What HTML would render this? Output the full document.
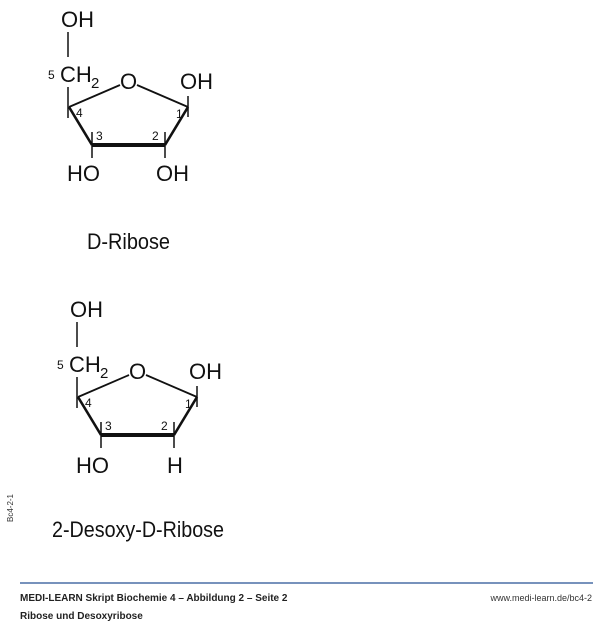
<!DOCTYPE html>
<html><head><meta charset="utf-8"><style>
html,body{margin:0;padding:0;background:#fff;width:600px;height:622px;overflow:hidden}
svg{display:block}
.big{font-family:"Liberation Sans",Arial,sans-serif;font-size:22px;fill:#111}
.sm{font-family:"Liberation Sans",Arial,sans-serif;font-size:12px;fill:#111}
.title{font-family:"Liberation Sans",sans-serif;font-size:22px;fill:#111}
.ft{font-family:"Liberation Sans",Arial,sans-serif;font-size:10px;font-weight:bold;fill:#222}
</style></head><body>
<svg width="600" height="622" viewBox="0 0 600 622" xmlns="http://www.w3.org/2000/svg">
<defs>
<g id="ring" stroke="#111" fill="none">
  <line x1="68" y1="32" x2="68" y2="57" stroke-width="1.5"/>
  <line x1="68" y1="87" x2="68" y2="118" stroke-width="1.5"/>
  <line x1="69" y1="107" x2="120" y2="85" stroke-width="1.8"/>
  <line x1="137" y1="85" x2="188" y2="107" stroke-width="1.8"/>
  <line x1="188" y1="96" x2="188" y2="117" stroke-width="1.5"/>
  <line x1="188" y1="107" x2="165" y2="145" stroke-width="2.6"/>
  <line x1="165" y1="145" x2="92" y2="145" stroke-width="4"/>
  <line x1="92" y1="145" x2="69" y2="107" stroke-width="2.6"/>
  <line x1="92" y1="132" x2="92" y2="158" stroke-width="1.5"/>
  <line x1="165" y1="132" x2="165" y2="158" stroke-width="1.5"/>
</g>
</defs>

<use href="#ring"/>
<text class="big" x="61" y="27">OH</text>
<text class="sm" x="48" y="79">5</text>
<text class="big" x="60" y="82">CH</text>
<text class="sm" x="91" y="88" style="font-size:15px">2</text>
<text class="big" x="120" y="89">O</text>
<text class="big" x="180" y="89">OH</text>
<text class="sm" x="76" y="117">4</text>
<text class="sm" x="96" y="140">3</text>
<text class="sm" x="152" y="140">2</text>
<text class="sm" x="176" y="118">1</text>
<text class="big" x="67" y="181">HO</text>
<text class="big" x="156" y="181">OH</text>
<text class="title" x="87" y="249" textLength="83" lengthAdjust="spacingAndGlyphs">D-Ribose</text>

<g transform="translate(9,290)">
<use href="#ring"/>
<text class="big" x="61" y="27">OH</text>
<text class="sm" x="48" y="79">5</text>
<text class="big" x="60" y="82">CH</text>
<text class="sm" x="91" y="88" style="font-size:15px">2</text>
<text class="big" x="120" y="89">O</text>
<text class="big" x="180" y="89">OH</text>
<text class="sm" x="76" y="117">4</text>
<text class="sm" x="96" y="140">3</text>
<text class="sm" x="152" y="140">2</text>
<text class="sm" x="176" y="118">1</text>
<text class="big" x="67" y="183">HO</text>
<text class="big" x="158" y="183">H</text>
</g>
<text class="title" x="52" y="537" textLength="172" lengthAdjust="spacingAndGlyphs">2-Desoxy-D-Ribose</text>

<text transform="translate(13,522) rotate(-90)" style="font-family:'Liberation Sans',sans-serif;font-size:8px;fill:#333">Bc4-2-1</text>

<line x1="20" y1="583" x2="593" y2="583" stroke="#4a6fa5" stroke-width="1.6"/>
<text class="ft" x="20" y="601">MEDI-LEARN Skript Biochemie 4 – Abbildung 2 – Seite 2</text>
<text class="ft" x="20" y="619">Ribose und Desoxyribose</text>
<text x="592" y="601" text-anchor="end" style="font-family:'Liberation Sans',sans-serif;font-size:9px;fill:#333">www.medi-learn.de/bc4-2</text>
</svg>
</body></html>
